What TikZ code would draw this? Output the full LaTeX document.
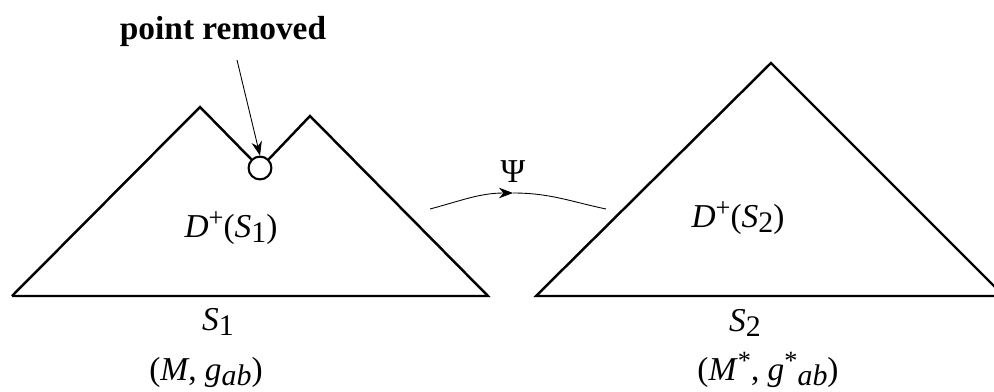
\documentclass[tikz,border=0pt]{standalone}
\usepackage{fontspec}
\setmainfont{Liberation Serif}
\usepackage{tikz}
\usetikzlibrary{arrows.meta,positioning}

\newcommand{\lowidx}[1]{\raisebox{-0.16em}{\fontsize{17}{17}\selectfont #1}}
\newcommand{\highidx}[1]{\raisebox{0.3em}{\fontsize{15}{15}\selectfont #1}}

\begin{document}
\begin{tikzpicture}[
    x=0.02cm, y=-0.02cm,
    edge/.style={line width=1.4pt, line join=miter},
    lbl/.style={font=\fontsize{19}{22}\selectfont, inner sep=0pt, anchor=base},
    head/.style={font=\fontsize{19}{22}\selectfont\bfseries, inner sep=0pt},
    arr/.style={-{Stealth[length=8pt,width=6pt]}, line width=0.5pt}
  ]
    \useasboundingbox (0,0) rectangle (994,392);

    % left domain with the notch
    \coordinate (lbase) at (12,296);
    \coordinate (lpeak) at (200,107);
    \coordinate (rpeak) at (310,116);
    \coordinate (rbase) at (488,296);
    \node[draw, circle, line width=1.2pt, minimum size=13pt, inner sep=0pt] (hole) at (260,168) {};
    \draw[edge] (lbase) -- (lpeak) -- (hole.north west);
    \draw[edge] (hole.north east) -- (rpeak) -- (rbase) -- (lbase);

    % right triangle
    \coordinate (tbase) at (536,296);
    \coordinate (tpeak) at (771,63);
    \coordinate (tend)  at (1004,296);
    \draw[edge] (tbase) -- (tpeak) -- (tend) -- cycle;

    % labels
    \node[head] (removed) at (223,31) {point removed};
    \coordinate (ptail) at (237,60);
    \draw[arr] (ptail) -- (hole.north);

    \node[lbl] (d1) at (231,237) {\textit{D}\highidx{+}(\textit{S}\lowidx{1})};
    \node[lbl] (d2) at (738,227) {\textit{D}\highidx{+}(\textit{S}\lowidx{2})};
    \node[lbl] (s1) at (218,330) {\textit{S}\lowidx{1}};
    \node[lbl] (s2) at (745,331) {\textit{S}\lowidx{2}};
    \node[lbl] (m1) at (206,380) {(\textit{M}, \textit{g}\lowidx{\textit{ab}})};
    \node[lbl] (m2) at (768,380) {(\textit{M}\highidx{*}, \textit{g}\highidx{*}\lowidx{\textit{ab}})};

    % the map
    \coordinate (pstart) at (430,209);
    \coordinate (pmid)   at (513,193);
    \coordinate (pend)   at (606,209);
    \draw[arr] (pstart) to[out=15,in=180] (pmid);
    \draw[line width=0.5pt] (pmid) to[out=0,in=168] (pend);
    \node[lbl] (psi) at (513,182) {Ψ};
\end{tikzpicture}
\end{document}
